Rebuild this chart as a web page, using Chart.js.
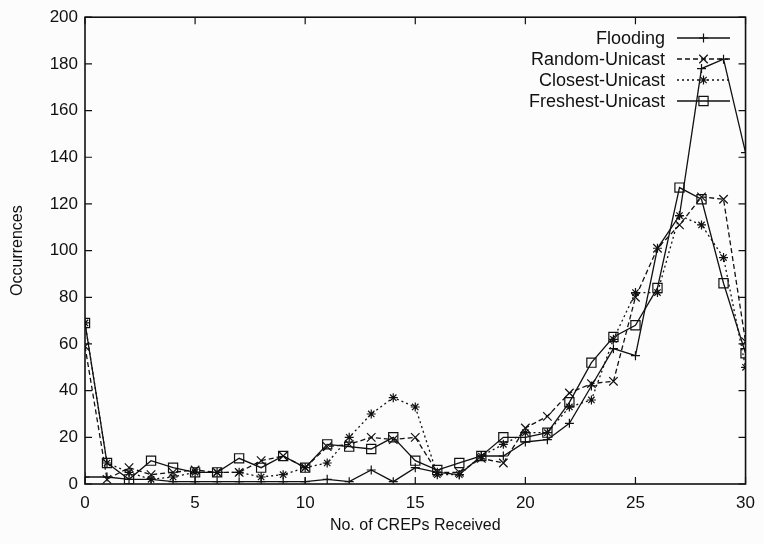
<!DOCTYPE html>
<html>
<head>
<meta charset="utf-8">
<script src="https://cdn.jsdelivr.net/npm/chart.js"></script>
<style>
  html, body { margin: 0; padding: 0; background: #fcfcfc; }
  #wrap { width: 764px; height: 544px; }
</style>
</head>
<body>
<div id="wrap"><canvas id="creps" width="764" height="544"></canvas></div>
<script>
// CREPs received vs occurrences
var crepCounts = [0, 1, 2, 3, 4, 5, 6, 7, 8, 9, 10, 11, 12, 13, 14, 15, 16, 17, 18, 19, 20, 21, 22, 23, 24, 25, 26, 27, 28, 29, 30];
var flooding = [3, 3, 2, 2, 1, 1, 1, 1, 1, 1, 1, 2, 1, 6, 1, 7, 5, 4, 12, 12, 18, 19, 26, 42, 58, 55, 101, 115, 178, 182, 142];
var randomUnicast = [59, 2, 7, 4, 5, 6, 5, 5, 10, 12, 7, 16, 17, 20, 19, 20, 5, 5, 11, 9, 24, 29, 39, 43, 44, 80, 101, 111, 123, 122, 61];
var closestUnicast = [69, 9, 5, 2, 3, 5, 5, 5, 3, 4, 7, 9, 20, 30, 37, 33, 4, 4, 12, 17, 22, 22, 33, 36, 62, 82, 82, 115, 111, 97, 50];
var freshestUnicast = [69, 9, 2, 10, 7, 5, 5, 11, 7, 12, 7, 17, 16, 15, 20, 10, 6, 9, 12, 20, 20, 22, 35, 52, 63, 68, 84, 127, 122, 86, 56];
var xTicks = [0, 5, 10, 15, 20, 25, 30];
var yTicks = [0, 20, 40, 60, 80, 100, 120, 140, 160, 180, 200];

var ink = '#111';
var fontFamily = '"Liberation Sans", Arial, Helvetica, sans-serif';

function points(values) {
    return crepCounts.map(function (c, i) { return { x: c, y: values[i] }; });
}

function series(label, values, dash, style, radius) {
    return {
        label: label,
        data: points(values),
        borderColor: ink,
        backgroundColor: 'rgba(0,0,0,0)',
        borderWidth: 1.3,
        borderDash: dash,
        pointStyle: style,
        pointRadius: radius,
        pointBorderWidth: 1.2,
        pointBorderColor: ink,
        pointBackgroundColor: 'rgba(0,0,0,0)',
        tension: 0,
        fill: false
    };
}

// box round the plot with inward ticks on all four sides
var frameTicks = {
    id: 'frameTicks',
    afterDatasetsDraw: function (chart) {
        var ctx = chart.ctx, a = chart.chartArea;
        var xs = chart.scales.x, ys = chart.scales.y, len = 7;
        ctx.save();
        ctx.strokeStyle = ink;
        ctx.lineWidth = 1.6;
        ctx.strokeRect(a.left, a.top, a.right - a.left, a.bottom - a.top);
        ctx.lineWidth = 1.2;
        ctx.beginPath();
        xTicks.forEach(function (v) {
            var px = xs.getPixelForValue(v);
            ctx.moveTo(px, a.bottom); ctx.lineTo(px, a.bottom - len);
            ctx.moveTo(px, a.top); ctx.lineTo(px, a.top + len);
        });
        yTicks.forEach(function (v) {
            var py = ys.getPixelForValue(v);
            ctx.moveTo(a.left, py); ctx.lineTo(a.left + len, py);
            ctx.moveTo(a.right, py); ctx.lineTo(a.right - len, py);
        });
        ctx.stroke();
        ctx.restore();
    }
};

function marker(ctx, style, r, x, y) {
    ctx.beginPath();
    if (style === 'cross' || style === 'star') {
        ctx.moveTo(x - r, y); ctx.lineTo(x + r, y);
        ctx.moveTo(x, y - r); ctx.lineTo(x, y + r);
    }
    if (style === 'crossRot' || style === 'star') {
        var d = r * Math.SQRT1_2;
        ctx.moveTo(x - d, y - d); ctx.lineTo(x + d, y + d);
        ctx.moveTo(x - d, y + d); ctx.lineTo(x + d, y - d);
    }
    if (style === 'rect') {
        var s = r * Math.SQRT1_2;
        ctx.rect(x - s, y - s, 2 * s, 2 * s);
    }
    ctx.stroke();
}

// gnuplot-style key: label right-aligned, sample line with marker
var keyBox = {
    id: 'keyBox',
    afterDraw: function (chart) {
        var ctx = chart.ctx;
        var textRight = 665, lineStart = 677, lineEnd = 730, y0 = 38, step = 21;
        ctx.save();
        ctx.font = '18px ' + fontFamily;
        ctx.textAlign = 'right';
        ctx.textBaseline = 'middle';
        chart.data.datasets.forEach(function (ds, i) {
            var y = y0 + i * step;
            ctx.fillStyle = ink;
            ctx.fillText(ds.label, textRight, y + 1);
            ctx.strokeStyle = ink;
            ctx.lineWidth = 1.3;
            ctx.setLineDash(ds.borderDash);
            ctx.beginPath();
            ctx.moveTo(lineStart, y); ctx.lineTo(lineEnd, y);
            ctx.stroke();
            ctx.setLineDash([]);
            ctx.lineWidth = 1.2;
            marker(ctx, ds.pointStyle, ds.pointRadius, (lineStart + lineEnd) / 2, y);
        });
        ctx.restore();
    }
};

window.onload = function () {
    var ctx = document.getElementById('creps').getContext('2d');
    var chart = new Chart(ctx, {
        type: 'line',
        data: {
            datasets: [
                series('Flooding', flooding, [], 'cross', 4.5),
                series('Random-Unicast', randomUnicast, [5, 3], 'crossRot', 6),
                series('Closest-Unicast', closestUnicast, [2, 3], 'star', 4.5),
                series('Freshest-Unicast', freshestUnicast, [], 'rect', 6.5)
            ]
        },
        options: {
            responsive: false,
            animation: false,
            layout: { padding: { left: 0, right: 11, top: 15, bottom: 0 } },
            plugins: { legend: { display: false }, tooltip: { enabled: false } },
            scales: {
                x: {
                    type: 'linear',
                    min: 0,
                    max: 30,
                    afterFit: function (s) { s.height = 60; },
                    afterBuildTicks: function (s) { s.ticks = xTicks.map(function (v) { return { value: v }; }); },
                    grid: { display: false, drawTicks: false },
                    border: { display: false },
                    ticks: { color: ink, padding: 9, maxRotation: 0, font: { family: fontFamily, size: 17 } },
                    title: {
                        display: true,
                        text: 'No. of CREPs Received',
                        color: ink,
                        padding: { top: 0, bottom: 9 },
                        font: { family: fontFamily, size: 16 }
                    }
                },
                y: {
                    min: 0,
                    max: 200,
                    afterFit: function (s) { s.width = 85; },
                    afterBuildTicks: function (s) { s.ticks = yTicks.map(function (v) { return { value: v }; }); },
                    grid: { display: false, drawTicks: false },
                    border: { display: false },
                    ticks: { color: ink, padding: 7, font: { family: fontFamily, size: 17 } },
                    title: {
                        display: true,
                        text: 'Occurrences',
                        color: ink,
                        padding: { top: 8, bottom: 0 },
                        font: { family: fontFamily, size: 16 }
                    }
                }
            }
        },
        plugins: [frameTicks, keyBox]
    });
};
</script>
</body>
</html>
